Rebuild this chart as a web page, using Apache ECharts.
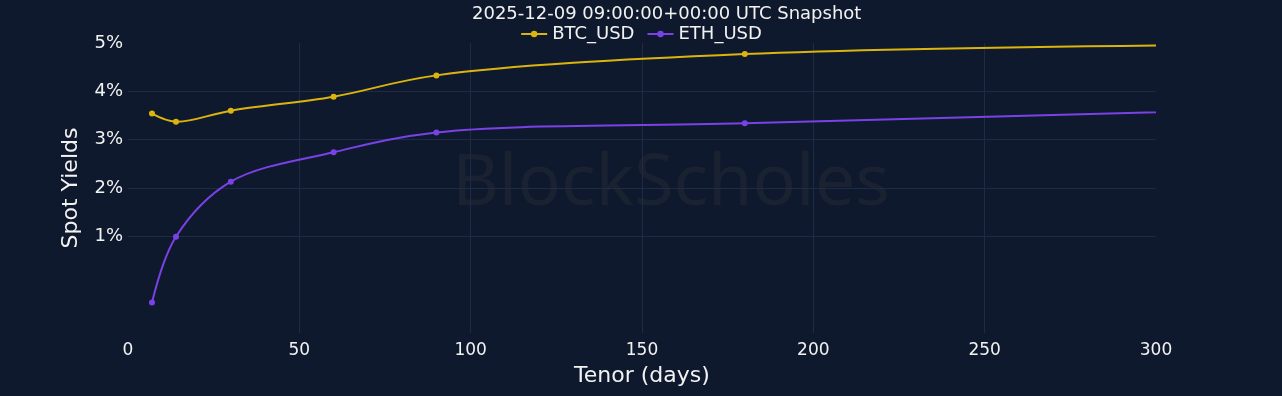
<!DOCTYPE html>
<html><head><meta charset="utf-8">
<script src="https://cdn.jsdelivr.net/npm/echarts@6/dist/echarts.min.js"></script>
<style>html,body{margin:0;padding:0;background:#0f192d;}#c{width:1282px;height:396px;}</style>
</head><body><div id="c"></div>
<script>
const titleText = '2025-12-09 09:00:00+00:00 UTC Snapshot';
const tenors = [7, 14, 30, 60, 90, 180, 365];
const btcYields = [3.54, 3.37, 3.60, 3.89, 4.33, 4.77, 4.99];
const ethYields = [-0.37, 0.99, 2.13, 2.74, 3.15, 3.34, 3.69];
const seriesNames = ['BTC_USD', 'ETH_USD'];
const xTicks = [0, 50, 100, 150, 200, 250, 300];
const yTickLabels = ['1%', '2%', '3%', '4%', '5%'];

const FONT = 'DejaVu Sans';
const gridCol = '#1e2b47';
const clear = 'rgba(0,0,0,0)';
const colors = ['#dcb40e', '#7a42e6'];
const chart = echarts.init(document.getElementById('c'));
const pair = (xs, ys) => xs.map((x, i) => [x, ys[i]]);

// Catmull-Rom style spline (plotly-like) through points in pixel space
function tangent(p0, p1, p2, s) {
  const d1x = p0[0] - p1[0], d1y = p0[1] - p1[1];
  const d2x = p2[0] - p1[0], d2y = p2[1] - p1[1];
  const d1a = Math.pow(d1x * d1x + d1y * d1y, 0.25);
  const d2a = Math.pow(d2x * d2x + d2y * d2y, 0.25);
  const numx = (d2a * d2a * d1x - d1a * d1a * d2x) * s;
  const numy = (d2a * d2a * d1y - d1a * d1a * d2y) * s;
  const den1 = 3 * d2a * (d1a + d2a), den2 = 3 * d1a * (d1a + d2a);
  return [[p1[0] + numx / den1, p1[1] + numy / den1], [p1[0] - numx / den2, p1[1] - numy / den2]];
}
function splinePath(pts) {
  const t = [];
  for (let i = 1; i < pts.length - 1; i++) t.push(tangent(pts[i - 1], pts[i], pts[i + 1], 1));
  const f = p => p[0].toFixed(2) + ',' + p[1].toFixed(2);
  let d = 'M' + f(pts[0]) + 'Q' + f(t[0][0]) + ' ' + f(pts[1]);
  for (let i = 2; i < pts.length - 1; i++) d += 'C' + f(t[i - 2][1]) + ' ' + f(t[i - 1][0]) + ' ' + f(pts[i]);
  d += 'Q' + f(t[pts.length - 3][1]) + ' ' + f(pts[pts.length - 1]);
  return d;
}
function splineSeries(name, ys, color) {
  const data = pair(tenors, ys);
  return {
    name, type: 'custom', data, clip: true, z: 2, silent: true,
    encode: { x: 0, y: 1 },
    renderItem: (params, api) => {
      if (params.dataIndex !== 0) return null;
      const pts = data.map(p => api.coord(p));
      return { type: 'path', shape: { pathData: splinePath(pts) },
        style: { stroke: color, fill: 'none', lineWidth: 2 } };
    }
  };
}
function markerSeries(name, ys, color) {
  return { name, type: 'line', data: pair(tenors, ys), symbol: 'circle', symbolSize: 6, clip: true, z: 3,
    lineStyle: { width: 0, opacity: 0 }, itemStyle: { color } };
}

chart.setOption({
  backgroundColor: '#0f192d',
  animation: false,
  title: {
    text: titleText, left: 467, top: 0,
    textStyle: { color: '#f2f2f2', fontFamily: FONT, fontSize: 18, fontWeight: 'normal' }
  },
  legend: {
    top: 20, left: 'center', itemWidth: 26, itemHeight: 8, itemGap: 12,
    textStyle: { color: '#f2f2f2', fontFamily: FONT, fontSize: 18 },
    data: seriesNames.map((n, i) => ({ name: n, lineStyle: { width: 2, opacity: 1, color: colors[i] }, itemStyle: { color: colors[i] } }))
  },
  graphic: [{
    type: 'text', left: 452, top: 148, silent: true, z: 0,
    style: { text: 'BlockScholes', fill: '#1a2131', font: '72px "Noto Sans"' }
  }],
  grid: { left: 128, right: 126, top: 43, bottom: 63 },
  xAxis: {
    type: 'value', min: 0, max: 300, interval: 50,
    name: 'Tenor (days)', nameLocation: 'middle', nameGap: 32,
    nameTextStyle: { color: '#f2f2f2', fontFamily: FONT, fontSize: 22 },
    axisLine: { show: false }, axisTick: { show: false },
    axisLabel: { color: '#f2f2f2', fontFamily: FONT, fontSize: 17, margin: 9,
      formatter: v => xTicks.includes(v) ? String(v) : '' },
    splitLine: { show: true, lineStyle: { width: 1, color: [clear, gridCol, gridCol, gridCol, gridCol, gridCol, clear] } }
  },
  yAxis: {
    type: 'value', min: -1, max: 5, interval: 1,
    name: 'Spot Yields', nameLocation: 'middle', nameGap: 46,
    nameTextStyle: { color: '#f2f2f2', fontFamily: FONT, fontSize: 22 },
    axisLine: { show: false }, axisTick: { show: false },
    axisLabel: { color: '#f2f2f2', fontFamily: FONT, fontSize: 18, margin: 5,
      formatter: v => { const s = Math.round(v) + '%'; return yTickLabels.includes(s) ? s : ''; } },
    splitLine: { show: true, lineStyle: { width: 1, color: [clear, clear, gridCol, gridCol, gridCol, gridCol, clear] } }
  },
  series: [
    markerSeries(seriesNames[0], btcYields, colors[0]),
    markerSeries(seriesNames[1], ethYields, colors[1]),
    splineSeries(seriesNames[0], btcYields, colors[0]),
    splineSeries(seriesNames[1], ethYields, colors[1])
  ]
});
</script></body></html>
